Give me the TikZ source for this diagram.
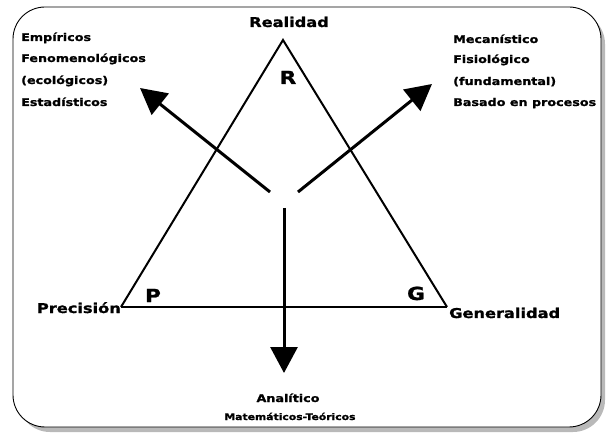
\documentclass[tikz,border=0pt]{standalone}
\usepackage{fontspec}
\setmainfont{DejaVu Sans}[FakeStretch=1.2,BoldFeatures={FakeBold=1.2}]
\usetikzlibrary{arrows.meta}
\begin{document}
\begin{tikzpicture}[x=1pt,y=-1pt,
  lbl/.style={inner sep=0pt,font=\fontsize{13.5}{15}\selectfont\bfseries},
  big/.style={inner sep=0pt,font=\fontsize{18}{20}\selectfont\bfseries},
  small/.style={inner sep=0pt,anchor=base west,font=\fontsize{10.6}{12}\selectfont\bfseries},
  tiny/.style={inner sep=0pt,anchor=base,font=\fontsize{9}{10}\selectfont\bfseries},
  edge/.style={line width=2pt,line join=miter},
  bigarrow/.style={line width=3pt,-{Triangle[length=26pt,width=27pt]}}]
\useasboundingbox (0,0) rectangle (606,433);
% frame with shadow
\fill[gray!55,rounded corners=32pt] (18,12) rectangle (605,432);
\draw[fill=white,line width=0.9pt,rounded corners=32pt] (13,7) rectangle (601,427);
% triangle
\coordinate (top) at (283,40);
\coordinate (left) at (121,307);
\coordinate (right) at (447,307);
\draw[edge] (left) -- (top) -- (right);
\draw[line width=1.6pt] (left) -- (right);
% vertex labels
\node[lbl,anchor=base] (real) at (289,27) {Realidad};
\node[lbl,anchor=base east] (prec) at (121,313) {Precisión};
\node[lbl,anchor=base west] (gen) at (449,318) {Generalidad};
\node[big,anchor=base] (R) at (288,84) {R};
\node[big,anchor=base] (P) at (153,302) {P};
\node[big,anchor=base] (G) at (416,300) {G};
% arrows
\coordinate (s1) at (270,192);
\coordinate (t1) at (140,88);
\coordinate (s2) at (298,192);
\coordinate (t2) at (432,84);
\coordinate (s3) at (284,208);
\coordinate (t3) at (284,373);
\draw[bigarrow] (s1) -- (t1);
\draw[bigarrow] (s2) -- (t2);
\draw[bigarrow] (s3) -- (t3);
% left text
\node[small] (l1) at (21,41) {Empíricos};
\node[small] (l2) at (21,62) {Fenomenológicos};
\node[small] (l3) at (21,84) {(ecológicos)};
\node[small] (l4) at (21,106) {Estadísticos};
% right text
\node[small] (r1) at (453,43) {Mecanístico};
\node[small] (r2) at (453,63) {Fisiológico};
\node[small] (r3) at (453,85) {(fundamental)};
\node[small] (r4) at (453,106) {Basado en procesos};
% bottom text
\node[small,anchor=base] (b1) at (288,402) {Analítico};
\node[tiny] (b2) at (290,420) {Matemáticos-Teóricos};
\end{tikzpicture}
\end{document}
